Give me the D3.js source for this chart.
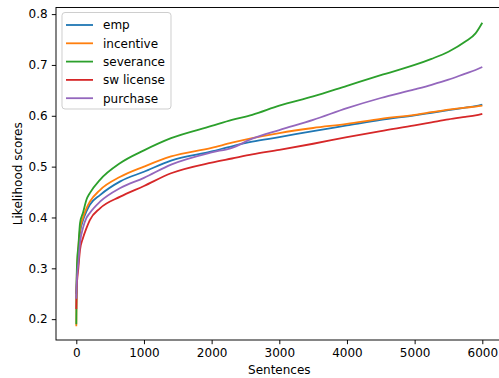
<!DOCTYPE html>
<meta charset="utf-8">
<head>
  <title>Likelihood scores</title>
</head>
<style>
  body { margin: 0; background: #fff; }
  svg { display: block; font-family: "DejaVu Sans", sans-serif; }
  .line { fill: none; stroke-width: 1.8px; stroke-linejoin: round; }
  .tick text { font-size: 12px; fill: #000; }
</style>
<body>
<svg width="499" height="378"></svg>
<script src="https://cdn.jsdelivr.net/npm/d3@7"></script>
<script>
// x positions shared by all series
var sentences = [0, 5, 15, 30, 55, 100, 150, 200, 350, 650, 1000, 1400, 2000, 2300, 2600, 3000, 3500, 4000, 4500, 5000, 5250, 5500, 5750, 5900, 6000];

var emp       = [0.25, 0.27, 0.30, 0.33, 0.37, 0.395, 0.412, 0.425, 0.444, 0.471, 0.490, 0.512, 0.530, 0.540, 0.549, 0.558, 0.570, 0.581, 0.592, 0.601, 0.606, 0.611, 0.616, 0.619, 0.622];
var incentive = [0.186, 0.27, 0.31, 0.34, 0.376, 0.40, 0.418, 0.431, 0.454, 0.480, 0.500, 0.520, 0.537, 0.547, 0.556, 0.566, 0.576, 0.584, 0.594, 0.602, 0.607, 0.612, 0.616, 0.618, 0.620];
var severance = [0.19, 0.28, 0.32, 0.343, 0.389, 0.41, 0.435, 0.448, 0.474, 0.507, 0.532, 0.556, 0.580, 0.592, 0.602, 0.620, 0.638, 0.659, 0.680, 0.700, 0.712, 0.726, 0.746, 0.762, 0.783];
var swLicense = [0.22, 0.26, 0.28, 0.30, 0.336, 0.36, 0.379, 0.395, 0.418, 0.441, 0.462, 0.487, 0.508, 0.516, 0.524, 0.533, 0.545, 0.558, 0.570, 0.581, 0.587, 0.593, 0.598, 0.601, 0.604];
var purchase  = [0.24, 0.265, 0.29, 0.31, 0.35, 0.38, 0.399, 0.409, 0.431, 0.458, 0.478, 0.504, 0.528, 0.537, 0.555, 0.572, 0.592, 0.615, 0.635, 0.652, 0.661, 0.671, 0.683, 0.690, 0.696];

var seriesNames = ["emp", "incentive", "severance", "sw license", "purchase"];
var seriesValues = [emp, incentive, severance, swLicense, purchase];
var colors = ["#1f77b4", "#ff7f0e", "#2ca02c", "#d62728", "#9467bd"];

var xTicks = [0, 1000, 2000, 3000, 4000, 5000, 6000];
var yTicks = [0.2, 0.3, 0.4, 0.5, 0.6, 0.7, 0.8];

var svg = d3.select("svg");

// axes box (right edge falls just outside the picture)
var boxLeft = 56, boxRight = 502.6, boxTop = 7.5, boxBottom = 340;

var x = d3.scaleLinear().domain([-300, 6300]).range([boxLeft, boxRight]);
var y = d3.scaleLinear().domain([0.159, 0.813]).range([boxBottom, boxTop]);

var line = d3.line()
  .curve(d3.curveMonotoneX)
  .x(function(d) { return x(d[0]); })
  .y(function(d) { return y(d[1]); });

seriesValues.forEach(function(vals, i) {
  var pts = sentences.map(function(s, j) { return [s, vals[j]]; });
  svg.append("path")
    .datum(pts)
    .attr("class", "line")
    .attr("stroke", colors[i])
    .attr("d", line);
});

// frame
svg.append("rect")
  .attr("x", boxLeft).attr("y", boxTop)
  .attr("width", boxRight - boxLeft).attr("height", boxBottom - boxTop)
  .attr("fill", "none").attr("stroke", "#000").attr("stroke-width", 0.96);

var xAxis = svg.append("g")
  .attr("transform", "translate(0," + boxBottom + ")")
  .call(d3.axisBottom(x).tickValues(xTicks).tickSize(4.2).tickPadding(4.2).tickFormat(d3.format("d")));
var yAxis = svg.append("g")
  .attr("transform", "translate(" + boxLeft + ",0)")
  .call(d3.axisLeft(y).tickValues(yTicks).tickSize(4.2).tickPadding(4.2).tickFormat(d3.format(".1f")));
[xAxis, yAxis].forEach(function(a) {
  a.select(".domain").remove();
  a.selectAll(".tick line").attr("stroke", "#000").attr("stroke-width", 0.96);
  a.attr("font-family", null).attr("font-size", null);
});

svg.append("text")
  .attr("x", (boxLeft + boxRight) / 2).attr("y", 374)
  .attr("text-anchor", "middle").attr("font-size", 12)
  .text("Sentences");
svg.append("text")
  .attr("transform", "translate(22," + ((boxTop + boxBottom) / 2) + ") rotate(-90)")
  .attr("text-anchor", "middle").attr("font-size", 12)
  .text("Likelihood scores");

// legend
var lg = svg.append("g").attr("transform", "translate(62,12.5)");
lg.append("rect")
  .attr("width", 109).attr("height", 96.5).attr("rx", 3)
  .attr("fill", "#fff").attr("fill-opacity", 0.8)
  .attr("stroke", "#cccccc").attr("stroke-width", 0.96);
seriesNames.forEach(function(name, i) {
  var row = lg.append("g").attr("transform", "translate(0," + (12.5 + i * 18.3) + ")");
  row.append("line").attr("x1", 4).attr("x2", 31)
    .attr("stroke", colors[i]).attr("stroke-width", 1.8);
  row.append("text").attr("x", 41).attr("y", 4.3)
    .attr("font-size", 12).text(name);
});
</script>
</body>
</html>
